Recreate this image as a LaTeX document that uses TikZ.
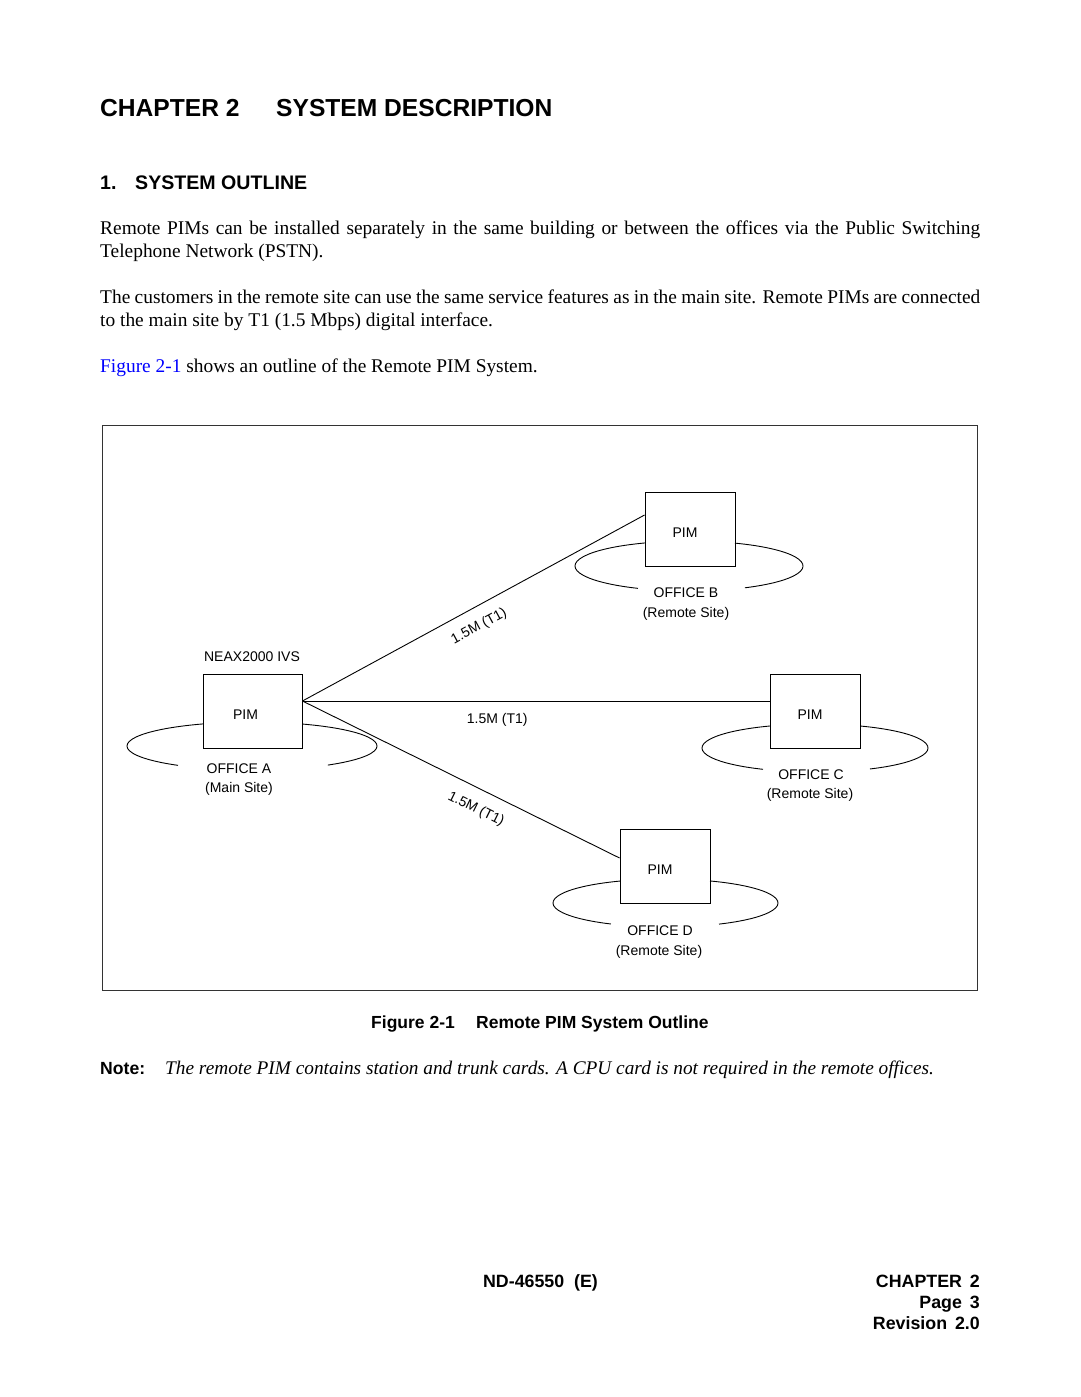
\documentclass[tikz,border=0pt]{standalone}
\usepackage{fontspec}
\setmainfont{Liberation Serif}
\setsansfont{Liberation Sans}
\newcommand\fsz[2]{\fontsize{#1}{#2}\selectfont}
\begin{document}
\begin{tikzpicture}[x=1pt,y=-1pt,
  pimbox/.style={draw, line width=0.9pt, inner sep=0pt, minimum height=74pt},
  lbl/.style={font=\sffamily\fsz{14}{17}, inner sep=0pt},
  pimlbl/.style={lbl, xshift=-5pt, yshift=-3.5pt},
  link/.style={line width=0.9pt},
  site/.style={line width=0.9pt},
  frm/.style={line width=1pt, draw=black!80},
  head/.style={font=\sffamily\bfseries\fsz{24.6}{29}, inner sep=0pt, anchor=base west},
  sect/.style={font=\sffamily\bfseries\fsz{19.6}{23}, inner sep=0pt, anchor=base west},
  body/.style={font=\rmfamily\fsz{19.4}{23}, inner sep=0pt, anchor=base west},
  foot/.style={font=\sffamily\bfseries\fsz{17.8}{21}, inner sep=0pt},
  captxt/.style={font=\sffamily\bfseries\fsz{17.5}{21}, inner sep=0pt, anchor=base west},
  linelbl/.style={lbl, sloped, below}]

\fill[white] (0,0) rectangle (1080,1397);
\useasboundingbox (0,0) rectangle (1080,1397);

% headings
\node[head] (ch) at (100,116) {CHAPTER 2};
\node[head] (chtitle) at (276,116) {SYSTEM DESCRIPTION};
\node[sect] (secnum) at (100,189) {1.};
\node[sect] (sectitle) at (135,189) {SYSTEM OUTLINE};

% body
\node[body] (p1) at (100,234) {\begin{minipage}[t]{880pt}\fsz{19.4}{23}Remote PIMs can be installed separately in the same building or between the offices via the Public Switching\linebreak Telephone Network (PSTN).\end{minipage}};
\node[body] (p2) at (100,303) {\begin{minipage}[t]{880pt}\fsz{19.4}{23}The customers in the remote site can use the same service features as in the main site. Remote PIMs are connected\linebreak to the main site by T1 (1.5 Mbps) digital interface.\end{minipage}};
\node[body] (p3) at (100,372) {{\color{blue}Figure 2-1} shows an outline of the Remote PIM System.};

% frame
\draw[frm] (102,425) rectangle (977,990);

% PIM boxes
\node[pimbox, minimum width=99pt, label={[pimlbl, xshift=-2pt]center:PIM}] (pimA) at (252.5,711) {};
\node[pimbox, minimum width=90pt, label={[pimlbl]center:PIM}] (pimB) at (690,529) {};
\node[pimbox, minimum width=90pt, label={[pimlbl]center:PIM}] (pimC) at (815,711) {};
\node[pimbox, minimum width=90pt, label={[pimlbl]center:PIM}] (pimD) at (665,866) {};

% site ellipses (partial)
\draw[site] (252,746) ++(246.9:125 and 24) arc[start angle=246.9, end angle=126.3, x radius=125, y radius=24];
\draw[site] (252,746) ++(-66.4:125 and 24) arc[start angle=-66.4, end angle=52.6, x radius=125, y radius=24];
\draw[site] (689,566) ++(247.3:114 and 25) arc[start angle=247.3, end angle=116.6, x radius=114, y radius=25];
\draw[site] (689,566) ++(-66.2:114 and 25) arc[start angle=-66.2, end angle=60.6, x radius=114, y radius=25];
\draw[site] (815,748) ++(246.5:113 and 24) arc[start angle=246.5, end angle=117.4, x radius=113, y radius=24];
\draw[site] (815,748) ++(-66.5:113 and 24) arc[start angle=-66.5, end angle=60.9, x radius=113, y radius=24];
\draw[site] (665.5,903) ++(246.2:112.5 and 24) arc[start angle=246.2, end angle=119, x radius=112.5, y radius=24];
\draw[site] (665.5,903) ++(-66.7:112.5 and 24) arc[start angle=-66.7, end angle=61.6, x radius=112.5, y radius=24];

% labels
\node[lbl] (neax) at (252,657) {NEAX2000 IVS};
\node[lbl] (offA) at (239,769) {OFFICE A};
\node[lbl] (siteA) at (239,788.5) {(Main Site)};
\node[lbl] (offB) at (686,593) {OFFICE B};
\node[lbl] (siteB) at (686,613.5) {(Remote Site)};
\node[lbl] (offC) at (811,775) {OFFICE C};
\node[lbl] (siteC) at (810,794.5) {(Remote Site)};
\node[lbl] (offD) at (660,931) {OFFICE D};
\node[lbl] (siteD) at (659,951.5) {(Remote Site)};

% connectors
\coordinate (hub) at ([yshift=10pt]pimA.east);
\coordinate (inB) at ([yshift=14pt]pimB.west);
\coordinate (inC) at ([yshift=10pt]pimC.west);
\coordinate (inD) at ([yshift=8pt]pimD.west);
\draw[link] (hub) -- node[linelbl, pos=0.49, inner sep=11.9pt] {1.5M (T1)} (inB);
\draw[link] (hub) -- node[linelbl, pos=0.417, inner sep=11.4pt] {1.5M (T1)} (inC);
\draw[link] (hub) -- node[linelbl, pos=0.575, inner sep=13.1pt] {1.5M (T1)} (inD);

% caption and note
\node[captxt] (capnum) at (371,1028) {Figure 2-1};
\node[captxt] (captext) at (476,1028) {Remote PIM System Outline};
\node[font=\sffamily\bfseries\fsz{17.6}{21}, inner sep=0pt, anchor=base west] (note) at (100,1074) {Note:};
\node[body, font=\rmfamily\itshape\fsz{19.3}{23}] (notetext) at (165,1074) {The remote PIM contains station and trunk cards. A CPU card is not required in the remote offices.};

% footer
\node[foot, anchor=base] (docnum) at (540.5,1287) {ND-46550\ \ (E)};
\node[foot, anchor=base east] (fch) at (980,1287) {CHAPTER\ \,2};
\node[foot, anchor=base east] (fpage) at (980,1308) {Page\ \,3};
\node[foot, anchor=base east] (frev) at (980,1329) {Revision\ \,2.0};
\end{tikzpicture}
\end{document}
